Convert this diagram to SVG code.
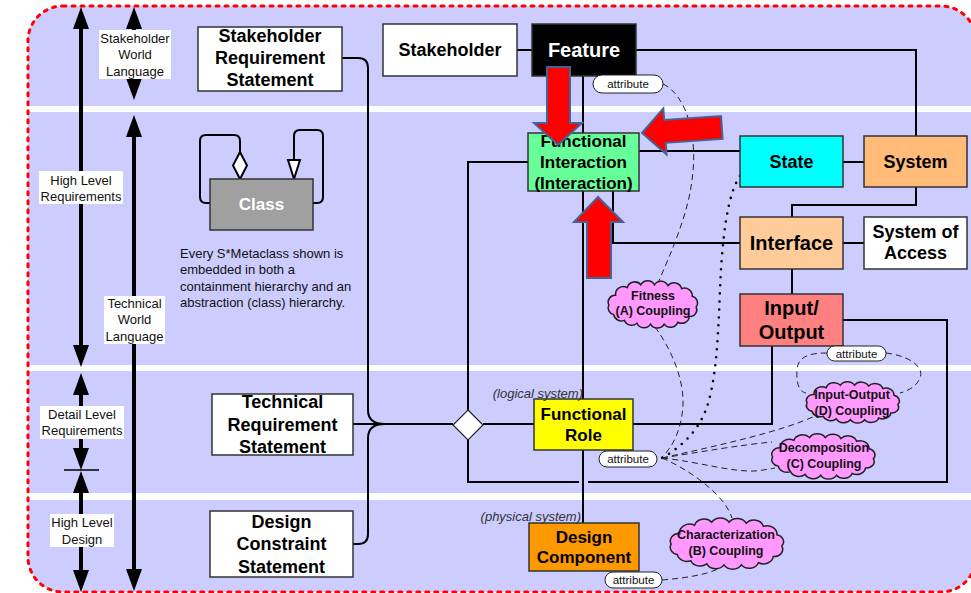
<svg xmlns="http://www.w3.org/2000/svg" xmlns:xlink="http://www.w3.org/1999/xlink" width="971" height="593" viewBox="0 0 971 593">
<style>
.node rect{stroke:#333;stroke-width:1.5}
.t18{font-family:"Liberation Sans",Arial,sans-serif;font-weight:bold;font-size:18px;text-anchor:middle;fill:#000}
.t17{font-family:"Liberation Sans",Arial,sans-serif;font-weight:bold;font-size:17px;text-anchor:middle;fill:#000}
.t20{font-family:"Liberation Sans",Arial,sans-serif;font-weight:bold;font-size:20px;text-anchor:middle;fill:#000}
.lbl{font-family:"Liberation Sans",Arial,sans-serif;font-size:13px;text-anchor:middle;fill:#111}
.desc{font-family:"Liberation Sans",Arial,sans-serif;font-size:13px;fill:#111}
.ital{font-family:"Liberation Sans",Arial,sans-serif;font-style:italic;font-size:13px;text-anchor:end;fill:#333}
.att rect{fill:#fff;stroke:#222;stroke-width:1}
.att text{font-family:"Liberation Sans",Arial,sans-serif;font-size:11.5px;text-anchor:middle;fill:#111}
.cl text{font-family:"Liberation Sans",Arial,sans-serif;font-weight:bold;font-size:12.5px;text-anchor:middle;fill:#111}
.con{fill:none;stroke:#000;stroke-width:2}
.dash{fill:none;stroke:#222;stroke-width:1;stroke-dasharray:6 4}
.dot{fill:none;stroke:#000;stroke-width:2.6;stroke-linecap:round;stroke-dasharray:0 8}
.bigarrow{fill:#ff0000;stroke:#41659a;stroke-width:2}
.scale{stroke:#000;stroke-width:4;marker-start:url(#ah);marker-end:url(#ah)}
.lblbox{fill:#fff;stroke:none}
</style>
<defs>
<marker id="ah" markerUnits="userSpaceOnUse" viewBox="0 0 22 16" markerWidth="22" markerHeight="16" refX="4" refY="8" orient="auto-start-reverse">
<path d="M0,0 L22,8 L0,16 Z" fill="#000"/>
</marker>
<symbol id="cloud" viewBox="0 0 100 50" preserveAspectRatio="none" style="overflow:visible">
<path d="M12,16 A8,8 0 0 1 24,8 A8,8 0 0 1 38,5 A8,8 0 0 1 52,5 A8,8 0 0 1 66,6 A8,8 0 0 1 80,9 A8,8 0 0 1 91,17 A7,7 0 0 1 95,28 A7,7 0 0 1 88,38 A8,8 0 0 1 76,44 A8,8 0 0 1 62,46 A8,8 0 0 1 48,46 A8,8 0 0 1 34,45 A8,8 0 0 1 21,42 A8,8 0 0 1 10,36 A7,7 0 0 1 5,26 A7,7 0 0 1 12,16 Z" fill="#ff99ff" stroke="#222" stroke-width="1.5" vector-effect="non-scaling-stroke"/>
</symbol>
</defs>

<!-- background -->
<rect x="28" y="6" width="948" height="586" rx="35" ry="35" fill="#ccccff"/>
<rect x="28" y="106" width="948" height="6" fill="#fff"/>
<rect x="28" y="365" width="948" height="6" fill="#fff"/>
<rect x="28" y="493" width="948" height="7" fill="#fff"/>
<rect x="28" y="6" width="948" height="586" rx="35" ry="35" fill="none" stroke="#ff0000" stroke-width="3" stroke-dasharray="3 6" stroke-linecap="round"/>

<!-- left scales -->
<g id="scales">
<line class="scale" x1="81" y1="25" x2="81" y2="349"/>
<line class="scale" x1="81" y1="391" x2="81" y2="452"/>
<line class="scale" x1="81" y1="489" x2="81" y2="574"/>
<line x1="64" y1="470" x2="99" y2="470" stroke="#000" stroke-width="1.3"/>
<line class="scale" x1="134" y1="25" x2="134" y2="82"/>
<line class="scale" x1="134" y1="133" x2="134" y2="573"/>
<rect class="lblbox" x="99" y="30" width="72" height="49"/>
<text class="lbl" x="135" y="43">Stakeholder</text>
<text class="lbl" x="135" y="59">World</text>
<text class="lbl" x="135" y="76">Language</text>
<rect class="lblbox" x="39" y="171" width="84" height="33"/>
<text class="lbl" x="81" y="185">High Level</text>
<text class="lbl" x="81" y="201">Requirements</text>
<rect class="lblbox" x="104" y="296" width="61" height="48"/>
<text class="lbl" x="134.5" y="308">Technical</text>
<text class="lbl" x="134.5" y="324">World</text>
<text class="lbl" x="134.5" y="341">Language</text>
<rect class="lblbox" x="40" y="406" width="84" height="33"/>
<text class="lbl" x="82" y="419">Detail Level</text>
<text class="lbl" x="82" y="435">Requirements</text>
<rect class="lblbox" x="50" y="514" width="64" height="33"/>
<text class="lbl" x="82" y="527">High Level</text>
<text class="lbl" x="82" y="544">Design</text>
</g>

<!-- connectors -->
<g id="connectors">
<path class="con" d="M342,58 H358 Q368,58 368,68 V410 Q368,424 385,424"/>
<path class="con" d="M353,544 H358 Q368,544 368,534 V438 Q368,424 385,424"/>
<path class="con" d="M353,424 H453"/>
<path class="con" d="M483,424 H534"/>
<path class="con" d="M517,50 H532"/>
<path class="con" d="M636,50 H916 V136"/>
<path class="con" d="M583,76 V523"/>
<path class="con" d="M528,162 H468 V410"/>
<path class="con" d="M468,440 V482 H579"/>
<path class="con" d="M588,482 H947 V320 H843"/>
<path class="con" d="M639,151 H740"/>
<path class="con" d="M613,191 V243 H740"/>
<path class="con" d="M843,162 H864"/>
<path class="con" d="M916,187 V205 H792 V217"/>
<path class="con" d="M843,243 H864"/>
<path class="con" d="M792,269 V294"/>
<path class="con" d="M633,424 H772 V346"/>
<polygon points="468,410 483,425 468,440 453,425" fill="#fff" stroke="#222" stroke-width="1.2"/>
<!-- class self loops -->
<path class="con" d="M210,203 H206 Q200,203 200,197 V141 Q200,135 206,135 H234 Q240,135 240,141 V152"/>
<polygon points="240,152 247,165.5 240,179 233,165.5" fill="#fff" stroke="#000" stroke-width="2"/>
<path class="con" d="M313,203 H317 Q323,203 323,197 V136 Q323,130 317,130 H300 Q294,130 294,136 V160"/>
<polygon points="288,160 300,160 294,179" fill="#fff" stroke="#000" stroke-width="2"/>
<!-- dashed attribute links -->
<path class="dash" d="M663,84 C688,96 698,140 692,180 C688,215 670,255 658,283"/>
<path class="dash" d="M655,327 C672,350 684,380 683,405 C682,425 675,445 662,457"/>
<path class="dash" d="M662,458 C720,445 780,432 815,416"/>
<path class="dash" d="M662,458 C700,452 740,445 772,442"/>
<path class="dash" d="M662,458 C700,462 730,472 755,471 Q765,470 775,468"/>
<path class="dash" d="M662,458 C690,470 725,495 732,518"/>
<path class="dash" d="M662,580 C685,578 705,575 718,569"/>
<path class="dash" d="M827,353 C810,353 798,356 797,370 C796,385 800,392 806,393"/>
<path class="dash" d="M886,353 C905,355 925,365 920,378 C917,386 908,391 900,393"/>
<path class="dot" d="M740,176 C727,195 722,240 720,290 C718,340 716,385 705,412 C697,432 680,448 662,458"/>
</g>

<!-- nodes -->
<g id="srs" class="node"><rect x="198" y="27" width="144" height="64" fill="#fff"/>
<text class="t18" x="270" y="42">Stakeholder</text><text class="t18" x="270" y="64">Requirement</text><text class="t18" x="270" y="86">Statement</text></g>
<g id="stakeholder" class="node"><rect x="383" y="24" width="134" height="52" fill="#fff"/>
<text class="t18" x="450" y="56">Stakeholder</text></g>
<g id="feature" class="node"><rect x="532" y="24" width="104" height="52" fill="#000"/>
<text class="t20" x="584" y="57" style="fill:#fff">Feature</text></g>
<g id="functional-interaction" class="node"><rect x="528" y="133" width="111" height="58" fill="#66ff99"/>
<text class="t17" x="583.5" y="147">Functional</text><text class="t17" x="583.5" y="168">Interaction</text><text class="t17" x="583.5" y="189">(Interaction)</text></g>
<g id="state" class="node"><rect x="740" y="136" width="103" height="51" fill="#00ffff"/>
<text class="t18" x="791.5" y="168">State</text></g>
<g id="system" class="node"><rect x="864" y="136" width="103" height="51" fill="#ffbb77"/>
<text class="t18" x="915.5" y="168">System</text></g>
<g id="interface" class="node"><rect x="740" y="217" width="103" height="52" fill="#ffcc99"/>
<text class="t20" x="791.5" y="250">Interface</text></g>
<g id="system-of-access" class="node"><rect x="864" y="217" width="103" height="52" fill="#fff"/>
<text class="t18" x="915.5" y="238">System of</text><text class="t18" x="915.5" y="259">Access</text></g>
<g id="input-output" class="node"><rect x="740" y="294" width="103" height="52" fill="#ff8080"/>
<text class="t20" x="791.5" y="315">Input/</text><text class="t20" x="791.5" y="339">Output</text></g>
<g id="functional-role" class="node"><rect x="534" y="399" width="99" height="51" fill="#ffff00"/>
<text class="t17" x="583.5" y="420">Functional</text><text class="t17" x="583.5" y="441">Role</text></g>
<g id="design-component" class="node"><rect x="529" y="523" width="110" height="48" fill="#ff9900"/>
<text class="t17" x="584" y="543">Design</text><text class="t17" x="584" y="563">Component</text></g>
<g id="trs" class="node"><rect x="212" y="394" width="141" height="61" fill="#fff"/>
<text class="t18" x="282.5" y="408">Technical</text><text class="t18" x="282.5" y="431">Requirement</text><text class="t18" x="282.5" y="453">Statement</text></g>
<g id="dcs" class="node"><rect x="210" y="511" width="143" height="66" fill="#fff"/>
<text class="t18" x="281.5" y="528">Design</text><text class="t18" x="281.5" y="550">Constraint</text><text class="t18" x="281.5" y="573">Statement</text></g>
<g id="class" class="node"><rect x="210" y="179" width="103" height="51" fill="#a0a0a0"/>
<text class="t17" x="261.5" y="210" style="fill:#fff">Class</text></g>

<g id="note">
<text class="desc" x="180" y="258">Every S*Metaclass shown is</text>
<text class="desc" x="180" y="274">embedded in both a</text>
<text class="desc" x="180" y="291">containment hierarchy and an</text>
<text class="desc" x="180" y="307">abstraction (class) hierarchy.</text>
<text class="ital" x="583" y="398">(logical system)</text>
<text class="ital" x="581" y="521">(physical system)</text>
</g>

<!-- attributes -->
<g id="attr-feature" class="att"><rect x="593" y="75" width="70" height="18" rx="9"/><text x="628" y="88">attribute</text></g>
<g id="attr-io" class="att"><rect x="827" y="346" width="59" height="15" rx="7.5"/><text x="856.5" y="357.5">attribute</text></g>
<g id="attr-fr" class="att"><rect x="599" y="451" width="58" height="16" rx="8"/><text x="628" y="463">attribute</text></g>
<g id="attr-dc" class="att"><rect x="605" y="572" width="57" height="16" rx="8"/><text x="633.5" y="584">attribute</text></g>

<!-- clouds -->
<g id="cloud-a" class="cl"><use xlink:href="#cloud" href="#cloud" x="604" y="280" width="97" height="48"/>
<text x="653" y="300">Fitness</text><text x="653" y="315">(A) Coupling</text></g>
<g id="cloud-d" class="cl"><use xlink:href="#cloud" href="#cloud" x="802" y="381" width="101" height="42"/>
<text x="852" y="399">Input-Output</text><text x="852" y="415">(D) Coupling</text></g>
<g id="cloud-c" class="cl"><use xlink:href="#cloud" href="#cloud" x="767" y="433" width="112" height="46"/>
<text x="824" y="452">Decomposition</text><text x="824" y="468">(C) Coupling</text></g>
<g id="cloud-b" class="cl"><use xlink:href="#cloud" href="#cloud" x="665" y="517" width="123" height="52"/>
<text x="726" y="539">Characterization</text><text x="726" y="555">(B) Coupling</text></g>

<!-- red block arrows -->
<g id="red-arrows">
<polygon class="bigarrow" points="547,67 570,67 570,123 582,123 558,145 534,123 547,123"/>
<polygon class="bigarrow" points="0,0 23,-23 23,-11.5 80,-11.5 80,11.5 23,11.5 23,23" transform="translate(642,133) rotate(-4)"/>
<polygon class="bigarrow" points="598,197 623,222 611,222 611,278 587,278 587,222 574,222"/>
</g>
</svg>
